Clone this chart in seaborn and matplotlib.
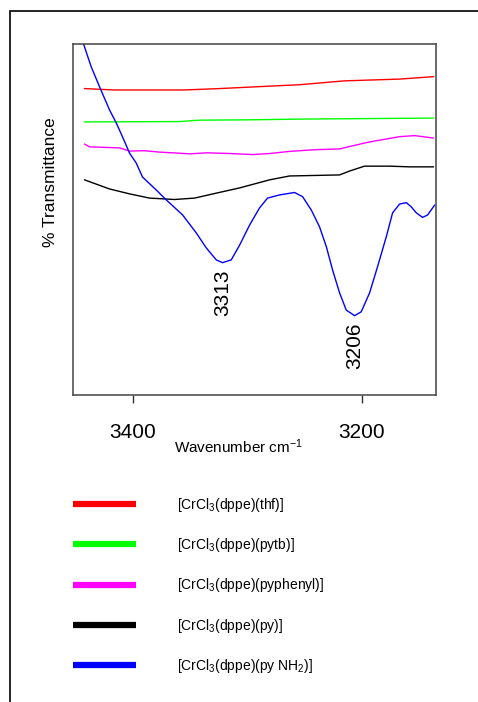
import numpy as np
import pandas as pd
import matplotlib
matplotlib.use("Agg")
import matplotlib.pyplot as plt
from matplotlib.lines import Line2D
from matplotlib.patches import Rectangle
import seaborn as sns

# ---------------- data ----------------
labels = ['[CrCl$_3$(dppe)(thf)]', '[CrCl$_3$(dppe)(pytb)]',
          '[CrCl$_3$(dppe)(pyphenyl)]', '[CrCl$_3$(dppe)(py)]',
          '[CrCl$_3$(dppe)(py NH$_2$)]']
colors = ['#ff0000', '#00ff00', '#ff00ff', '#000000', '#0000ff']

thf_wn = [3442, 3416, 3355, 3324, 3280, 3254, 3215, 3167, 3137]
thf_t = [87.3, 86.9, 86.9, 87.3, 88.0, 88.4, 89.5, 90.0, 90.7]

pytb_wn = [3442, 3359, 3341.5, 3298, 3254, 3137]
pytb_t = [77.8, 77.9, 78.3, 78.4, 78.6, 78.9]

pyphenyl_wn = [3442, 3437.6, 3411.4, 3402.6, 3390, 3376.4, 3365, 3350.2, 3335,
               3315.3, 3295, 3280.3, 3262.9, 3240, 3219.2, 3210.5, 3193.0,
               3166.8, 3153.7, 3137.1]
pyphenyl_t = [71.5, 70.7, 70.4, 69.5, 69.6, 69.2, 69.0, 68.7, 69.0,
              68.8, 68.5, 68.8, 69.4, 69.9, 70.1, 70.8, 72.1,
              73.6, 73.9, 73.2]

py_wn = [3442, 3420.1, 3402.6, 3385.2, 3363.3, 3345.8, 3328.4, 3306.5, 3280.3,
         3262.9, 3219.2, 3210.5, 3197.4, 3175.5, 3158.1, 3137.1]
py_t = [61.3, 58.7, 57.3, 56.1, 55.7, 56.1, 57.4, 59.0, 61.3,
        62.4, 62.7, 63.8, 65.2, 65.2, 65.0, 65.0]

pynh2_wn = [3442.8, 3436.1, 3428.8, 3420.1, 3414.2, 3408.7, 3402.6, 3396.8,
            3391.3, 3379.3, 3370.6, 3356.3, 3344.4, 3335.6, 3326.9, 3321.4,
            3313.8, 3306.5, 3297.8, 3289.1, 3282.1, 3271.6, 3258.5, 3251.5,
            3243.9, 3236.7, 3230.8, 3225.3, 3219.2, 3213.4, 3206.1, 3200.3,
            3193.0, 3186.0, 3178.4, 3172.9, 3166.8, 3160.9, 3156.6, 3152.2,
            3146.7, 3142.3, 3136.2]
pynh2_t = [100.0, 93.5, 87.8, 81.2, 77.5, 73.5, 68.9, 66.1,
           62.1, 58.4, 55.6, 51.3, 46.2, 41.9, 38.5, 37.7,
           38.5, 42.7, 48.4, 53.3, 56.1, 57.0, 57.7, 56.5,
           52.7, 47.9, 42.3, 35.6, 29.1, 24.2, 22.6, 23.7,
           29.1, 36.6, 45.1, 51.9, 54.4, 54.8, 53.6, 51.9,
           50.6, 51.3, 54.1]

peak_labels = ['3313', '3206']
peak_windows = [(3290, 3350), (3180, 3230)]

x_ticks = [3400, 3200]

# ---------------- build table ----------------
series = [(thf_wn, thf_t), (pytb_wn, pytb_t), (pyphenyl_wn, pyphenyl_t),
          (py_wn, py_t), (pynh2_wn, pynh2_t)]
frames = []
for lab, (wn, t) in zip(labels, series):
    frames.append(pd.DataFrame({'wn': wn, 'T': t, 'sample': lab}))
df = pd.concat(frames, ignore_index=True)

# ---------------- style ----------------
sns.set_style('white')
plt.rcParams['font.family'] = ['Liberation Sans', 'DejaVu Sans']
plt.rcParams['mathtext.fontset'] = 'custom'
plt.rcParams['mathtext.rm'] = 'Liberation Sans'
plt.rcParams['mathtext.default'] = 'regular'
plt.rcParams['text.color'] = 'black'
plt.rcParams['axes.labelcolor'] = 'black'
plt.rcParams['xtick.color'] = 'black'
plt.rcParams['xtick.labelcolor'] = 'black'

fig = plt.figure(figsize=(4.78, 7.02), dpi=100)
ax = fig.add_axes([73 / 478, 1 - 395 / 702, 363 / 478, 351 / 702])

sns.lineplot(data=df, x='wn', y='T', hue='sample', palette=colors,
             hue_order=labels, estimator=None, sort=False, linewidth=1.0,
             legend=False, ax=ax)

ax.set_xlim(3452, 3135)
ax.set_ylim(0, 100)
ax.set_xticks(x_ticks)
ax.set_xticklabels([str(v) for v in x_ticks], fontsize=15)
ax.set_yticks([])
ax.tick_params(axis='x', direction='out', length=6, width=1.0,
               color='#333333', pad=14, bottom=True)
for s in ax.spines.values():
    s.set_color('#444444')
    s.set_linewidth(1.1)

ax.set_xlabel('Wavenumber cm$^{-1}$', fontsize=11, va='center')
ax.xaxis.set_label_coords(0.457, -0.148)
ax.set_ylabel('% Transmittance', fontsize=12.5, va='center')
ax.yaxis.set_label_coords(-0.063, 0.607)

# peak labels under the blue minima
bx = np.array(pynh2_wn)
by = np.array(pynh2_t)
for lab, (lo, hi) in zip(peak_labels, peak_windows):
    m = (bx >= lo) & (bx <= hi)
    i = np.argmin(np.where(m, by, np.inf))
    ax.annotate(lab, xy=(bx[i], by[i]), xytext=(0, -22),
                textcoords='offset points', rotation=90,
                ha='center', va='center', fontsize=15, color='black')

# legend
handles = [Line2D([], [], color=c, linewidth=4.5, solid_capstyle='butt')
           for c in colors]
fig.legend(handles, labels, loc='upper left',
           bbox_to_anchor=(73 / 478, 1 - 496 / 702), frameon=False,
           fontsize=10, handlelength=4.5, handletextpad=3.0,
           labelspacing=1.6, borderpad=0, borderaxespad=0)

# outer frame
fig.add_artist(Rectangle((10 / 478, -0.1), 2.0, 1.1 - 11 / 702,
                         transform=fig.transFigure, fill=False,
                         edgecolor='black', linewidth=1.2, clip_on=False))

fig.savefig('out.png', dpi=100)
